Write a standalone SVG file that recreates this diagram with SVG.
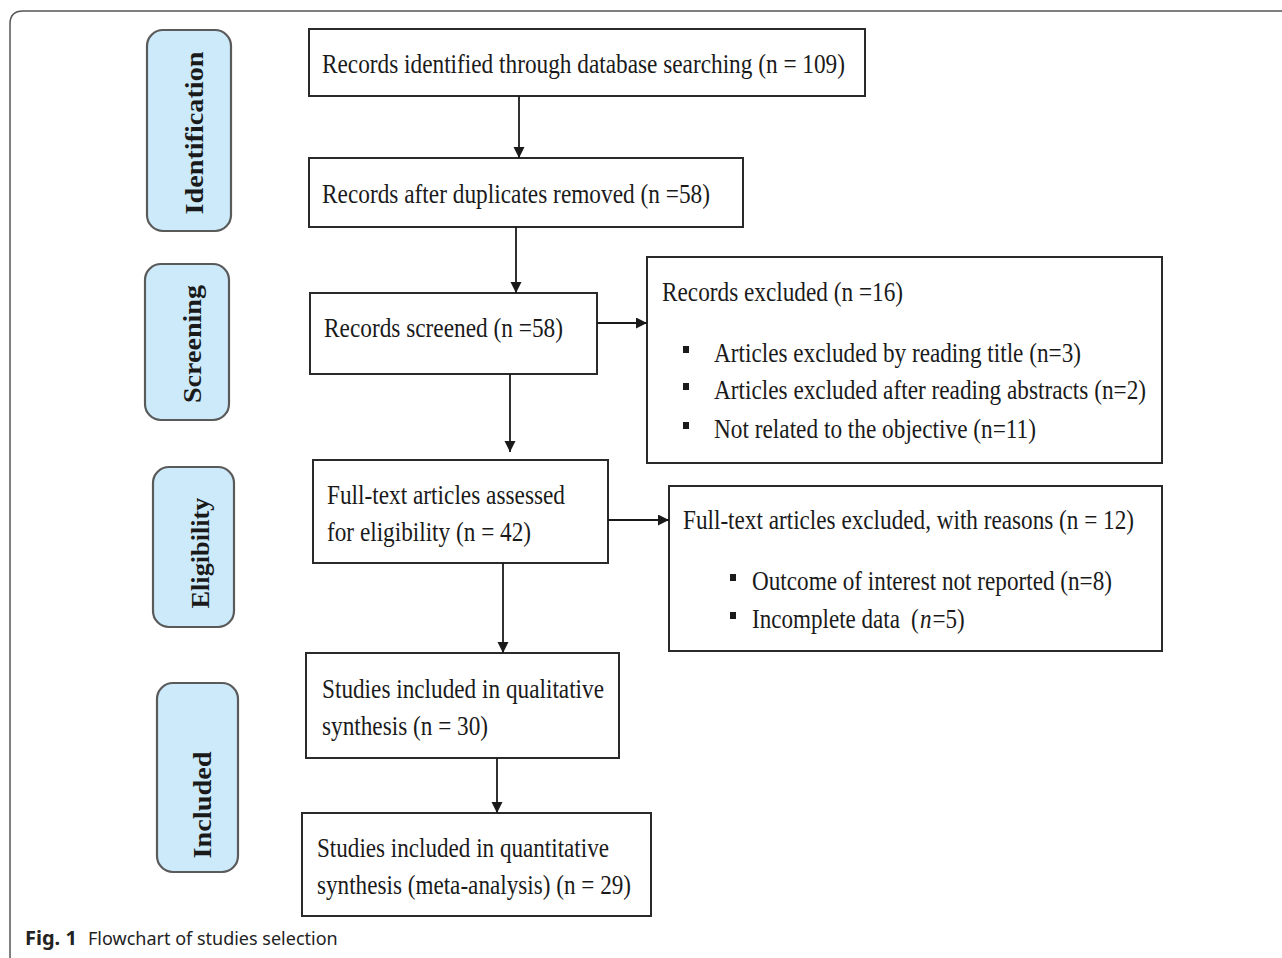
<svg xmlns="http://www.w3.org/2000/svg" width="1282" height="958" viewBox="0 0 1282 958">
<style>
.stage rect{fill:#cdeafb;stroke:#5a5a5a;stroke-width:2.2}
.stage text{font-family:"Liberation Serif",serif;font-weight:bold;font-size:25px;fill:#1a1a1a;text-anchor:middle}
.box rect{fill:#fff;stroke:#2a2a2a;stroke-width:2}
.box text{font-family:"Liberation Serif",serif;font-size:27px;fill:#1a1a1a}
.box .bul{fill:#1a1a1a;stroke:none}
.box .it{font-style:italic}
.conn line{stroke:#1a1a1a;stroke-width:1.8}
.cap{font-family:"Noto Sans","Open Sans",sans-serif;font-size:18px;fill:#222}
.capb{font-family:"Noto Sans","Open Sans",sans-serif;font-size:20px;font-weight:bold;fill:#222}
</style>
<defs>
<marker id="ah" markerWidth="12" markerHeight="12" refX="11" refY="5.5" orient="auto" markerUnits="userSpaceOnUse">
<path d="M0,0 L11,5.5 L0,11 z" fill="#1a1a1a"/>
</marker>
</defs>
<rect width="1282" height="958" fill="#fff"/>
<path id="frame" d="M10,958 L10,24 Q10,11 23,11 L1282,11" fill="none" stroke="#555" stroke-width="1.5"/>

<g id="stage-identification" class="stage">
<rect x="147" y="30" width="84" height="201" rx="16"/>
<text transform="translate(203,133) rotate(-90)" textLength="163" lengthAdjust="spacingAndGlyphs">Identification</text>
</g>
<g id="stage-screening" class="stage">
<rect x="145" y="264" width="84" height="156" rx="16"/>
<text transform="translate(201,344) rotate(-90)" textLength="118" lengthAdjust="spacingAndGlyphs">Screening</text>
</g>
<g id="stage-eligibility" class="stage">
<rect x="153" y="467" width="81" height="160" rx="16"/>
<text transform="translate(209,553) rotate(-90)" textLength="111" lengthAdjust="spacingAndGlyphs">Eligibility</text>
</g>
<g id="stage-included" class="stage">
<rect x="157" y="683" width="81" height="189" rx="16"/>
<text transform="translate(211,805) rotate(-90)" textLength="107" lengthAdjust="spacingAndGlyphs">Included</text>
</g>

<g id="identified" class="box">
<rect x="309" y="29" width="556" height="67"/>
<text x="322" y="73" textLength="523" lengthAdjust="spacingAndGlyphs">Records identified through database searching (n = 109)</text>
</g>
<g id="duplicates" class="box">
<rect x="309" y="158" width="434" height="69"/>
<text x="322" y="203" textLength="388" lengthAdjust="spacingAndGlyphs">Records after duplicates removed (n =58)</text>
</g>
<g id="screened" class="box">
<rect x="310" y="293" width="287" height="81"/>
<text x="324" y="337" textLength="239" lengthAdjust="spacingAndGlyphs">Records screened (n =58)</text>
</g>
<g id="excluded" class="box">
<rect x="647" y="257" width="515" height="206"/>
<text x="662" y="301" textLength="241" lengthAdjust="spacingAndGlyphs">Records excluded (n =16)</text>
<rect class="bul" x="683" y="346" width="6" height="7"/>
<text x="714" y="362" textLength="367" lengthAdjust="spacingAndGlyphs">Articles excluded by reading title (n=3)</text>
<rect class="bul" x="683" y="383" width="6" height="7"/>
<text x="714" y="399" textLength="432" lengthAdjust="spacingAndGlyphs">Articles excluded after reading abstracts (n=2)</text>
<rect class="bul" x="683" y="422" width="6" height="7"/>
<text x="714" y="438" textLength="322" lengthAdjust="spacingAndGlyphs">Not related to the objective (n=11)</text>
</g>
<g id="fulltext" class="box">
<rect x="313" y="460" width="295" height="103"/>
<text x="327" y="504" textLength="238" lengthAdjust="spacingAndGlyphs">Full-text articles assessed</text>
<text x="327" y="541" textLength="204" lengthAdjust="spacingAndGlyphs">for eligibility (n = 42)</text>
</g>
<g id="fulltext-excluded" class="box">
<rect x="669" y="486" width="493" height="165"/>
<text x="683" y="529" textLength="451" lengthAdjust="spacingAndGlyphs">Full-text articles excluded, with reasons (n = 12)</text>
<rect class="bul" x="730" y="574" width="6" height="7"/>
<text x="752" y="590" textLength="360" lengthAdjust="spacingAndGlyphs">Outcome of interest not reported (n=8)</text>
<rect class="bul" x="730" y="612" width="6" height="7"/>
<g transform="translate(752,628) scale(0.855,1)">
<text x="0" y="0">Incomplete data</text>
<text x="186" y="0">(</text>
<text class="it" x="196.5" y="0">n</text>
<text x="211" y="0">=5)</text>
</g>
</g>
<g id="qualitative" class="box">
<rect x="306" y="653" width="313" height="105"/>
<text x="322" y="698" textLength="282" lengthAdjust="spacingAndGlyphs">Studies included in qualitative</text>
<text x="322" y="735" textLength="166" lengthAdjust="spacingAndGlyphs">synthesis (n = 30)</text>
</g>
<g id="quantitative" class="box">
<rect x="302" y="813" width="349" height="103"/>
<text x="317" y="857" textLength="292" lengthAdjust="spacingAndGlyphs">Studies included in quantitative</text>
<text x="317" y="894" textLength="314" lengthAdjust="spacingAndGlyphs">synthesis (meta-analysis) (n = 29)</text>
</g>

<g id="connectors" class="conn">
<line x1="519" y1="96" x2="519" y2="158" marker-end="url(#ah)"/>
<line x1="516" y1="227" x2="516" y2="293" marker-end="url(#ah)"/>
<line x1="510" y1="374" x2="510" y2="452" marker-end="url(#ah)"/>
<line x1="597" y1="323" x2="647" y2="323" marker-end="url(#ah)"/>
<line x1="608" y1="520" x2="669" y2="520" marker-end="url(#ah)"/>
<line x1="503" y1="563" x2="503" y2="653" marker-end="url(#ah)"/>
<line x1="497" y1="758" x2="497" y2="813" marker-end="url(#ah)"/>
</g>

<text class="capb" x="25" y="945">Fig. 1</text>
<text class="cap" x="88" y="945">Flowchart of studies selection</text>
</svg>
